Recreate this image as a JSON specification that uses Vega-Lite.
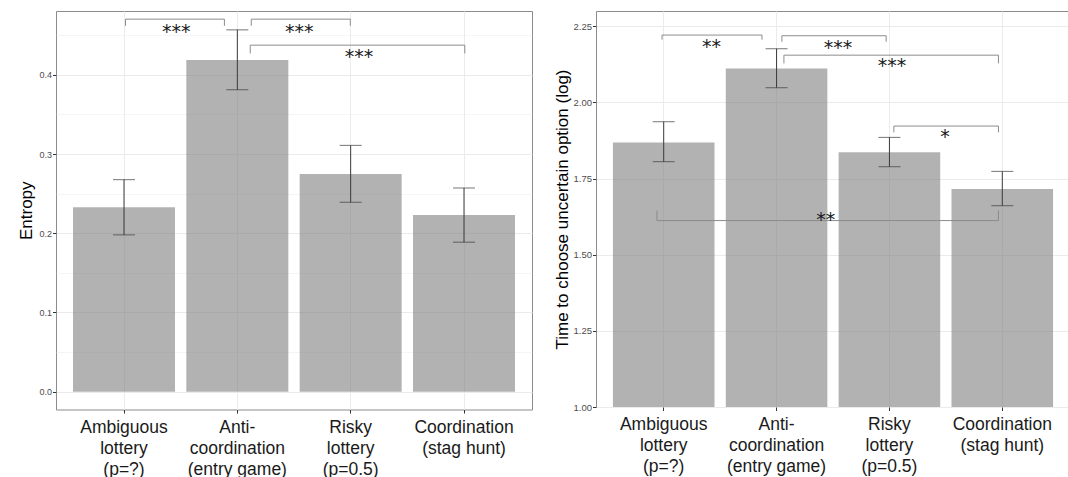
{
  "$schema": "https://vega.github.io/schema/vega-lite/v6.json",
  "background": "white",
  "padding": {"left": 16, "top": 10, "right": 2, "bottom": 0},
  "spacing": 19,
  "datasets": {
    "left_bars": [
      {"cat": "Ambiguous|lottery|(p=?)", "mean": 0.2328, "lo": 0.1979, "hi": 0.2676},
      {"cat": "Anti-|coordination|(entry game)", "mean": 0.4185, "lo": 0.3811, "hi": 0.4567},
      {"cat": "Risky|lottery|(p=0.5)", "mean": 0.2748, "lo": 0.2391, "hi": 0.3109},
      {"cat": "Coordination|(stag hunt)", "mean": 0.2231, "lo": 0.1887, "hi": 0.2571}
    ],
    "right_bars": [
      {"cat": "Ambiguous|lottery|(p=?)", "mean": 1.8687, "lo": 1.8053, "hi": 1.9365},
      {"cat": "Anti-|coordination|(entry game)", "mean": 2.1116, "lo": 2.0481, "hi": 2.1761},
      {"cat": "Risky|lottery|(p=0.5)", "mean": 1.8359, "lo": 1.7888, "hi": 1.8851},
      {"cat": "Coordination|(stag hunt)", "mean": 1.7155, "lo": 1.6608, "hi": 1.7735}
    ],
    "left_brackets": [
      {"x1": 1.013, "x2": 1.886, "ytop": 0.4702, "yleg": 0.4618},
      {"x1": 2.123, "x2": 2.997, "ytop": 0.4702, "yleg": 0.4618},
      {"x1": 2.114, "x2": 4.007, "ytop": 0.4374, "yleg": 0.4269}
    ],
    "left_stars": [
      {"x": 1.46, "y": 0.4467, "label": "***"},
      {"x": 2.546, "y": 0.4467, "label": "***"},
      {"x": 3.073, "y": 0.4143, "label": "***"}
    ],
    "right_brackets": [
      {"x1": 0.985, "x2": 1.871, "ytop": 2.221, "yleg": 2.2057},
      {"x1": 2.047, "x2": 2.971, "ytop": 2.2188, "yleg": 2.199},
      {"x1": 2.065, "x2": 3.966, "ytop": 2.155, "yleg": 2.128},
      {"x1": 3.039, "x2": 3.966, "ytop": 1.9223, "yleg": 1.9015},
      {"x1": 0.94, "x2": 3.966, "ytop": 1.612, "yleg": 1.645}
    ],
    "right_stars": [
      {"x": 1.423, "y": 2.163, "label": "**"},
      {"x": 2.545, "y": 2.1585, "label": "***"},
      {"x": 3.023, "y": 2.0984, "label": "***"},
      {"x": 3.492, "y": 1.8665, "label": "*"},
      {"x": 2.436, "y": 1.5955, "label": "**"}
    ]
  },
  "config": {
    "view": {"stroke": "#8c8c8c", "strokeWidth": 1},
    "font": "Liberation Sans",
    "axis": {
      "domain": false,
      "tickColor": "#333333",
      "tickSize": 3.5,
      "tickWidth": 1,
      "gridColor": "#ebebeb",
      "labelFont": "Liberation Sans",
      "titleFont": "Liberation Sans",
      "titleFontWeight": "normal",
      "titleColor": "#000000",
      "titleFontSize": 17
    },
    "axisX": {
      "labelFontSize": 17.5,
      "labelColor": "#1a1a1a",
      "labelAngle": 0,
      "labelLineHeight": 21,
      "labelBaseline": "top",
      "labelPadding": 5,
      "grid": true,
      "bandPosition": 0.5,
      "labelOverlap": false
    },
    "axisY": {
      "labelFontSize": 9,
      "labelColor": "#4d4d4d",
      "labelPadding": 1,
      "titlePadding": 3.5,
      "grid": true
    }
  },
  "hconcat": [
    {
      "width": 476,
      "height": 398.5,
      "resolve": {"scale": {"x": "independent"}},
      "layer": [
        {
          "data": {"name": "left_bars"},
          "layer": [
            {
              "mark": {"type": "bar", "color": "#7f7f7f", "opacity": 0.6},
              "encoding": {
                "x": {"field": "cat", "type": "nominal", "sort": null, "title": null,
                      "scale": {"paddingInner": 0.1, "paddingOuter": 0.15},
                      "axis": {"labelExpr": "split(datum.value, '|')"}},
                "y": {"field": "mean", "type": "quantitative", "title": "Entropy",
                      "scale": {"domain": [-0.0225, 0.4805], "nice": false, "zero": false},
                      "axis": {
                        "values": [0, 0.05, 0.1, 0.15, 0.2, 0.25, 0.3, 0.35, 0.4, 0.45],
                        "labelExpr": "abs(datum.value*10 - round(datum.value*10)) < 0.001 ? format(datum.value, '.1f') : ''",
                        "tickOpacity": {"condition": {"test": "abs(datum.value*10 - round(datum.value*10)) > 0.001", "value": 0}, "value": 1},
                        "gridWidth": {"condition": {"test": "abs(datum.value*10 - round(datum.value*10)) > 0.001", "value": 0.5}, "value": 1}
                      }}
              }
            },
            {
              "mark": {"type": "rule", "color": "#3a3a3a", "strokeWidth": 1},
              "encoding": {
                "x": {"field": "cat", "type": "nominal", "sort": null, "title": null},
                "y": {"field": "lo", "type": "quantitative", "title": "Entropy",
                      "scale": {"domain": [-0.0225, 0.4805], "nice": false, "zero": false}},
                "y2": {"field": "hi"}
              }
            },
            {
              "mark": {"type": "tick", "color": "#3a3a3a", "size": 22, "thickness": 1},
              "encoding": {
                "x": {"field": "cat", "type": "nominal", "sort": null, "title": null},
                "y": {"field": "hi", "type": "quantitative", "title": "Entropy",
                      "scale": {"domain": [-0.0225, 0.4805], "nice": false, "zero": false}}
              }
            },
            {
              "mark": {"type": "tick", "color": "#3a3a3a", "size": 22, "thickness": 1},
              "encoding": {
                "x": {"field": "cat", "type": "nominal", "sort": null, "title": null},
                "y": {"field": "lo", "type": "quantitative", "title": "Entropy",
                      "scale": {"domain": [-0.0225, 0.4805], "nice": false, "zero": false}}
              }
            }
          ]
        },
        {
          "layer": [
            {
              "data": {"name": "left_brackets"},
              "mark": {"type": "rule", "color": "#8c8c8c", "strokeWidth": 1},
              "encoding": {
                "x": {"field": "x1", "type": "quantitative", "axis": null,
                      "scale": {"domain": [0.4, 4.6], "nice": false, "zero": false}},
                "x2": {"field": "x2"},
                "y": {"field": "ytop", "type": "quantitative", "title": "Entropy",
                      "scale": {"domain": [-0.0225, 0.4805], "nice": false, "zero": false}}
              }
            },
            {
              "data": {"name": "left_brackets"},
              "mark": {"type": "rule", "color": "#8c8c8c", "strokeWidth": 1},
              "encoding": {
                "x": {"field": "x1", "type": "quantitative", "axis": null,
                      "scale": {"domain": [0.4, 4.6], "nice": false, "zero": false}},
                "y": {"field": "yleg", "type": "quantitative", "title": "Entropy",
                      "scale": {"domain": [-0.0225, 0.4805], "nice": false, "zero": false}},
                "y2": {"field": "ytop"}
              }
            },
            {
              "data": {"name": "left_brackets"},
              "mark": {"type": "rule", "color": "#8c8c8c", "strokeWidth": 1},
              "encoding": {
                "x": {"field": "x2", "type": "quantitative", "axis": null,
                      "scale": {"domain": [0.4, 4.6], "nice": false, "zero": false}},
                "y": {"field": "yleg", "type": "quantitative", "title": "Entropy",
                      "scale": {"domain": [-0.0225, 0.4805], "nice": false, "zero": false}},
                "y2": {"field": "ytop"}
              }
            },
            {
              "data": {"name": "left_stars"},
              "mark": {"type": "text", "font": "DejaVu Sans", "fontSize": 19, "color": "#1a1a1a", "align": "center", "baseline": "alphabetic"},
              "encoding": {
                "x": {"field": "x", "type": "quantitative", "axis": null,
                      "scale": {"domain": [0.4, 4.6], "nice": false, "zero": false}},
                "y": {"field": "y", "type": "quantitative", "title": "Entropy",
                      "scale": {"domain": [-0.0225, 0.4805], "nice": false, "zero": false}},
                "text": {"field": "label"}
              }
            }
          ]
        }
      ]
    },
    {
      "width": 474,
      "height": 396,
      "resolve": {"scale": {"x": "independent"}},
      "layer": [
        {
          "data": {"name": "right_bars"},
          "layer": [
            {
              "mark": {"type": "bar", "color": "#7f7f7f", "opacity": 0.6, "clip": true},
              "encoding": {
                "x": {"field": "cat", "type": "nominal", "sort": null, "title": null,
                      "scale": {"paddingInner": 0.1, "paddingOuter": 0.15},
                      "axis": {"labelExpr": "split(datum.value, '|')"}},
                "y": {"field": "mean", "type": "quantitative", "title": "Time to choose uncertain option (log)",
                      "scale": {"domain": [1.0, 2.3], "nice": false, "zero": false},
                      "axis": {
                        "values": [1, 1.125, 1.25, 1.375, 1.5, 1.625, 1.75, 1.875, 2, 2.125, 2.25],
                        "labelFontSize": 9.5,
                        "titlePadding": 2,
                        "labelExpr": "abs(datum.value*4 - round(datum.value*4)) < 0.001 ? format(datum.value, '.2f') : ''",
                        "tickOpacity": {"condition": {"test": "abs(datum.value*4 - round(datum.value*4)) > 0.001", "value": 0}, "value": 1},
                        "gridWidth": {"condition": {"test": "abs(datum.value*4 - round(datum.value*4)) > 0.001", "value": 0.5}, "value": 1}
                      }}
              }
            },
            {
              "mark": {"type": "rule", "color": "#3a3a3a", "strokeWidth": 1},
              "encoding": {
                "x": {"field": "cat", "type": "nominal", "sort": null, "title": null},
                "y": {"field": "lo", "type": "quantitative", "title": "Time to choose uncertain option (log)",
                      "scale": {"domain": [1.0, 2.3], "nice": false, "zero": false}},
                "y2": {"field": "hi"}
              }
            },
            {
              "mark": {"type": "tick", "color": "#3a3a3a", "size": 22, "thickness": 1},
              "encoding": {
                "x": {"field": "cat", "type": "nominal", "sort": null, "title": null},
                "y": {"field": "hi", "type": "quantitative", "title": "Time to choose uncertain option (log)",
                      "scale": {"domain": [1.0, 2.3], "nice": false, "zero": false}}
              }
            },
            {
              "mark": {"type": "tick", "color": "#3a3a3a", "size": 22, "thickness": 1},
              "encoding": {
                "x": {"field": "cat", "type": "nominal", "sort": null, "title": null},
                "y": {"field": "lo", "type": "quantitative", "title": "Time to choose uncertain option (log)",
                      "scale": {"domain": [1.0, 2.3], "nice": false, "zero": false}}
              }
            }
          ]
        },
        {
          "layer": [
            {
              "data": {"name": "right_brackets"},
              "mark": {"type": "rule", "color": "#8c8c8c", "strokeWidth": 1},
              "encoding": {
                "x": {"field": "x1", "type": "quantitative", "axis": null,
                      "scale": {"domain": [0.4, 4.6], "nice": false, "zero": false}},
                "x2": {"field": "x2"},
                "y": {"field": "ytop", "type": "quantitative", "title": "Time to choose uncertain option (log)",
                      "scale": {"domain": [1.0, 2.3], "nice": false, "zero": false}}
              }
            },
            {
              "data": {"name": "right_brackets"},
              "mark": {"type": "rule", "color": "#8c8c8c", "strokeWidth": 1},
              "encoding": {
                "x": {"field": "x1", "type": "quantitative", "axis": null,
                      "scale": {"domain": [0.4, 4.6], "nice": false, "zero": false}},
                "y": {"field": "yleg", "type": "quantitative", "title": "Time to choose uncertain option (log)",
                      "scale": {"domain": [1.0, 2.3], "nice": false, "zero": false}},
                "y2": {"field": "ytop"}
              }
            },
            {
              "data": {"name": "right_brackets"},
              "mark": {"type": "rule", "color": "#8c8c8c", "strokeWidth": 1},
              "encoding": {
                "x": {"field": "x2", "type": "quantitative", "axis": null,
                      "scale": {"domain": [0.4, 4.6], "nice": false, "zero": false}},
                "y": {"field": "yleg", "type": "quantitative", "title": "Time to choose uncertain option (log)",
                      "scale": {"domain": [1.0, 2.3], "nice": false, "zero": false}},
                "y2": {"field": "ytop"}
              }
            },
            {
              "data": {"name": "right_stars"},
              "mark": {"type": "text", "font": "DejaVu Sans", "fontSize": 19, "color": "#1a1a1a", "align": "center", "baseline": "alphabetic"},
              "encoding": {
                "x": {"field": "x", "type": "quantitative", "axis": null,
                      "scale": {"domain": [0.4, 4.6], "nice": false, "zero": false}},
                "y": {"field": "y", "type": "quantitative", "title": "Time to choose uncertain option (log)",
                      "scale": {"domain": [1.0, 2.3], "nice": false, "zero": false}},
                "text": {"field": "label"}
              }
            }
          ]
        }
      ]
    }
  ]
}
